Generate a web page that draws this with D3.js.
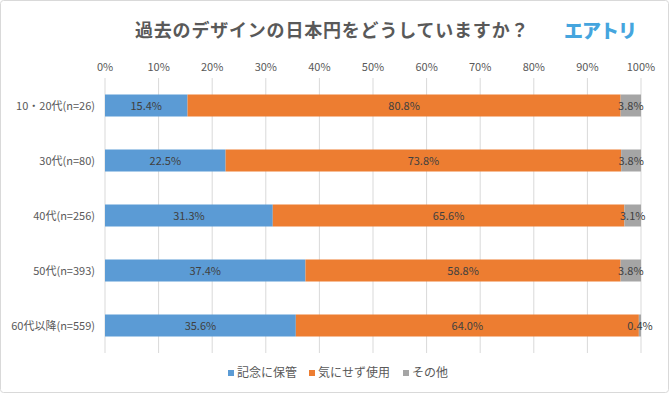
<!DOCTYPE html>
<html>
<head>
<meta charset="utf-8">
<script src="https://cdn.jsdelivr.net/npm/d3@7"></script>
<style>
body { margin: 0; background: #fff; }
text { font-family: "Noto Sans CJK JP", "Noto Sans", sans-serif; }
</style>
</head>
<body>
<div id="chart"></div>
<script>
// data
var categories = ["10・20代(n=26)", "30代(n=80)", "40代(n=256)", "50代(n=393)", "60代以降(n=559)"];
var seriesNames = ["記念に保管", "気にせず使用", "その他"];
var keepValues = [15.4, 22.5, 31.3, 37.4, 35.6];
var useValues = [80.8, 73.8, 65.6, 58.8, 64.0];
var otherValues = [3.8, 3.8, 3.1, 3.8, 0.4];
var tickValues = [0, 10, 20, 30, 40, 50, 60, 70, 80, 90, 100];
var colors = ["#5b9bd5", "#ed7d31", "#a5a5a5"];

var width = 669, height = 393;
var margin = {top: 78, right: 28, bottom: 40, left: 105};

var svg = d3.select("#chart").append("svg")
	.attr("width", width)
	.attr("height", height);

// outer frame
svg.append("rect")
	.attr("x", 0.5).attr("y", 0.5)
	.attr("width", width - 1).attr("height", height - 1)
	.attr("rx", 3)
	.attr("fill", "#fff")
	.attr("stroke", "#d9d9d9");

// title
svg.append("text")
	.attr("x", 135).attr("y", 37)
	.attr("font-size", 18)
	.attr("font-weight", "bold")
	.attr("letter-spacing", 0.8)
	.attr("fill", "#595959")
	.text("過去のデザインの日本円をどうしていますか？");

// logo
svg.append("text")
	.attr("x", 564).attr("y", 38)
	.attr("font-size", 19)
	.attr("font-weight", 900)
	.attr("letter-spacing", -1)
	.attr("fill", "#45a5de")
	.text("エアトリ");

var x = d3.scaleLinear()
	.domain([0, 100])
	.range([margin.left, width - margin.right]);

var y = d3.scaleBand()
	.domain(categories)
	.range([margin.top, height - margin.bottom])
	.paddingInner(0.6)
	.paddingOuter(0.3);

// gridlines
svg.append("g").selectAll("line")
	.data(tickValues)
	.enter().append("line")
	.attr("x1", function(d) { return x(d); })
	.attr("x2", function(d) { return x(d); })
	.attr("y1", margin.top)
	.attr("y2", height - margin.bottom)
	.attr("stroke", "#d9d9d9");

// tick labels on top
svg.append("g").selectAll("text")
	.data(tickValues)
	.enter().append("text")
	.attr("x", function(d) { return x(d); })
	.attr("y", 71)
	.attr("text-anchor", "middle")
	.attr("font-size", 11)
	.attr("fill", "#595959")
	.text(function(d) { return d + "%"; });

// category labels
svg.append("g").selectAll("text")
	.data(categories)
	.enter().append("text")
	.attr("x", 95)
	.attr("y", function(d) { return y(d) + y.bandwidth() / 2 + 4; })
	.attr("text-anchor", "end")
	.attr("font-size", 11)
	.attr("fill", "#595959")
	.text(function(d) { return d; });

// stacked rows
var rows = categories.map(function(c, i) {
	return {cat: c, keep: keepValues[i], use: useValues[i], other: otherValues[i]};
});
var stack = d3.stack().keys(["keep", "use", "other"]);
var layers = stack(rows);

var groups = svg.append("g").selectAll("g")
	.data(layers)
	.enter().append("g")
	.attr("fill", function(d, i) { return colors[i]; });

groups.selectAll("rect")
	.data(function(d) { return d; })
	.enter().append("rect")
	.attr("x", function(d) { return x(d[0]); })
	.attr("y", function(d) { return y(d.data.cat); })
	.attr("width", function(d) { return x(Math.min(d[1], 100)) - x(d[0]); })
	.attr("height", y.bandwidth());

// value labels
layers.forEach(function(layer) {
	svg.append("g").selectAll("text")
		.data(layer)
		.enter().append("text")
		.attr("x", function(d) { return x((d[0] + Math.min(d[1], 100)) / 2); })
		.attr("y", function(d) { return y(d.data.cat) + y.bandwidth() / 2 + 4; })
		.attr("text-anchor", "middle")
		.attr("font-size", 11)
		.attr("fill", "#404040")
		.text(function(d) { return (d[1] - d[0]).toFixed(1) + "%"; });
});

// legend
var legendX = [228, 309, 403];
var legend = svg.append("g").selectAll("g")
	.data(seriesNames)
	.enter().append("g")
	.attr("transform", function(d, i) { return "translate(" + legendX[i] + ",373)"; });

legend.append("rect")
	.attr("x", 0).attr("y", -3)
	.attr("width", 6).attr("height", 6)
	.attr("fill", function(d, i) { return colors[i]; });

legend.append("text")
	.attr("x", 9).attr("y", 4)
	.attr("font-size", 12)
	.attr("fill", "#595959")
	.text(function(d) { return d; });
</script>
</body>
</html>
